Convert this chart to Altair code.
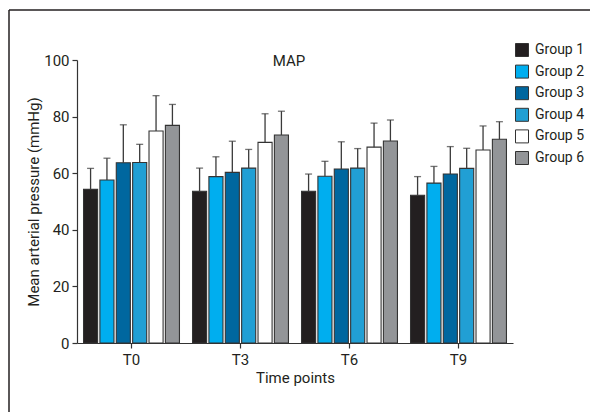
import altair as alt
import pandas as pd

groups = ["Group 1", "Group 2", "Group 3", "Group 4", "Group 5", "Group 6"]
times = ["T0", "T3", "T6", "T9"]
colors = ["#231f20", "#00aeef", "#00679f", "#219fd4", "#ffffff", "#939598"]

mean_g1 = [54.3, 53.6, 53.6, 52.2]
mean_g2 = [57.6, 58.8, 58.9, 56.5]
mean_g3 = [63.7, 60.3, 61.5, 59.7]
mean_g4 = [63.8, 61.8, 61.8, 61.7]
mean_g5 = [74.9, 70.9, 69.2, 68.2]
mean_g6 = [76.9, 73.5, 71.4, 72.0]

sd_g1 = [7.4, 8.2, 6.1, 6.6]
sd_g2 = [7.7, 7.0, 5.3, 5.9]
sd_g3 = [13.4, 11.0, 9.6, 9.7]
sd_g4 = [6.4, 6.6, 6.9, 7.1]
sd_g5 = [12.5, 10.1, 8.5, 8.5]
sd_g6 = [7.4, 8.4, 7.4, 6.2]

means = [mean_g1, mean_g2, mean_g3, mean_g4, mean_g5, mean_g6]
sds = [sd_g1, sd_g2, sd_g3, sd_g4, sd_g5, sd_g6]

rows = []
for gi, g in enumerate(groups):
    for ti, t in enumerate(times):
        rows.append({"time": t, "group": g, "mean": means[gi][ti],
                     "upper": means[gi][ti] + sds[gi][ti]})
df = pd.DataFrame(rows)

FONT = "Roboto"
W, H = 436, 283

x_enc = alt.X("time:N", sort=times,
              scale=alt.Scale(paddingInner=0.12, paddingOuter=0.06),
              axis=alt.Axis(title="Time points", labelAngle=0))
xo_enc = alt.XOffset("group:N", sort=groups,
                     scale=alt.Scale(paddingInner=0.14, paddingOuter=0))

base = alt.Chart(df)

bars = base.mark_bar(stroke="#333333", strokeWidth=1.1).encode(
    x=x_enc,
    xOffset=xo_enc,
    y=alt.Y("mean:Q", scale=alt.Scale(domain=[0, 100]),
            axis=alt.Axis(title="Mean arterial pressure (mmHg)",
                          values=[0, 20, 40, 60, 80, 100])),
    fill=alt.Fill("group:N", sort=groups,
                  scale=alt.Scale(domain=groups, range=colors),
                  legend=alt.Legend(title=None, orient="none",
                                    legendX=438, legendY=-17,
                                    symbolType="square", symbolSize=169,
                                    symbolStrokeColor="#333333",
                                    symbolStrokeWidth=1,
                                    labelFont=FONT, labelFontSize=14,
                                    labelColor="#231f20",
                                    labelOffset=6, rowPadding=3.6,
                                    padding=0)),
)

err_line = base.mark_rule(color="#3a3a3a", strokeWidth=1.3).encode(
    x=x_enc, xOffset=xo_enc,
    y="mean:Q", y2="upper:Q",
)

err_cap = base.mark_tick(color="#3a3a3a", thickness=1.3, size=7,
                         orient="horizontal").encode(
    x=x_enc, xOffset=xo_enc,
    y="upper:Q",
)

frame_data = alt.Data(values=[{"k": 1}])
frame_left = alt.Chart(frame_data).mark_rule(color="#231f20", strokeWidth=1.5).encode(
    x=alt.value(-68), y=alt.value(-50), y2=alt.value(400))
frame_top = alt.Chart(frame_data).mark_rule(color="#231f20", strokeWidth=1.5).encode(
    x=alt.value(-68), x2=alt.value(560), y=alt.value(-50))

chart = alt.layer(bars, err_line, err_cap, frame_left, frame_top).properties(
    width=W, height=H,
    autosize=alt.AutoSizeParams(type="none"),
    padding={"left": 69, "top": 52, "right": 77, "bottom": 69},
    title=alt.TitleParams("MAP", font=FONT, fontSize=15, fontWeight="normal",
                          color="#231f20", anchor="middle", dx=-6, dy=64),
).configure_view(stroke=None).configure_axis(
    labelFont=FONT, titleFont=FONT, labelFontSize=15, titleFontSize=15,
    titleFontWeight="normal", labelColor="#231f20", titleColor="#231f20",
    domainColor="#333333", tickColor="#333333", domainWidth=1.2,
    tickWidth=1.2, tickSize=5, grid=False,
).configure_axisY(labelPadding=3, titlePadding=2).configure_axisX(
    labelPadding=4, titlePadding=3)

chart.save("out.html", embed_options={"renderer": "svg", "actions": False})
